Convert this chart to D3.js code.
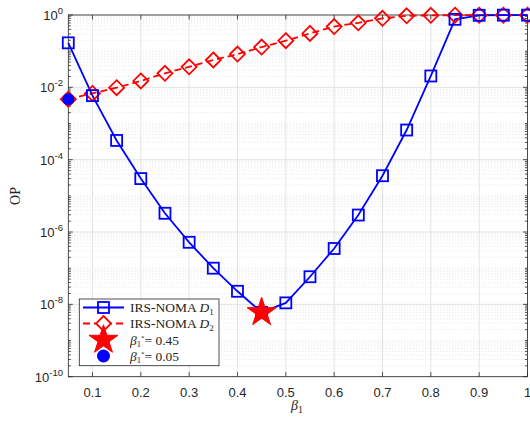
<!DOCTYPE html>
<html><head><meta charset="utf-8">
<script src="https://cdn.jsdelivr.net/npm/d3@7"></script>
<style>body{margin:0;background:#fff}</style>
</head><body><svg id="c" width="530" height="421"></svg>
<script>
const beta = [0.05,0.1,0.15,0.2,0.25,0.3,0.35,0.4,0.45,0.5,0.55,0.6,0.65,0.7,0.75,0.8,0.85,0.9,0.95,1.0];
const opD1 = [0.17,5.9e-3,3.4e-4,3.0e-5,3.3e-6,5.2e-7,1.0e-7,2.3e-8,6e-9,1.1e-8,5.8e-8,3.5e-7,2.95e-6,3.6e-5,6.6e-4,2.06e-2,0.76,0.98,0.99,0.99];
const opD2 = [4.7e-3,6.8e-3,9.8e-3,0.015,0.0245,0.037,0.057,0.083,0.13,0.195,0.31,0.48,0.61,0.81,0.95,0.98,0.99,0.99,0.99,0.99];
const starPt = {x:0.45, y:6e-9};
const circPt = {x:0.05, y:4.7e-3};
const xTicks = [0.1,0.2,0.3,0.4,0.5,0.6,0.7,0.8,0.9,1];
const yTickExp = [0,-2,-4,-6,-8,-10];
const legendLabels = ["IRS-NOMA D1","IRS-NOMA D2","β1*= 0.45","β1*= 0.05"];

const svg = d3.select("#c");
const L=68.3,R=527.5,T=15,B=376.7;
const x = d3.scaleLinear().domain([0.05,1]).range([L,R]);
const y = d3.scaleLog().domain([1e-10,1]).range([B,T]);

// grid
const g = svg.append("g");
const minor=[];
for(let e=-10;e<0;e++){ for(let m=1;m<10;m++){ const v=m*Math.pow(10,e); if(m===1 && e%2===0) continue; minor.push(v);} }
g.selectAll(".mg").data(minor).enter().append("line")
 .attr("x1",L).attr("x2",R).attr("y1",d=>y(d)).attr("y2",d=>y(d))
 .attr("stroke","#d4d4d4").attr("stroke-width",0.6).attr("stroke-dasharray","1,2");
g.selectAll(".gy").data(yTickExp.map(e=>Math.pow(10,e))).enter().append("line")
 .attr("x1",L).attr("x2",R).attr("y1",d=>y(d)).attr("y2",d=>y(d))
 .attr("stroke","#e3e3e3").attr("stroke-width",1);
g.selectAll(".gx").data(xTicks).enter().append("line")
 .attr("y1",T).attr("y2",B).attr("x1",d=>x(d)).attr("x2",d=>x(d))
 .attr("stroke","#e3e3e3").attr("stroke-width",1);

// ticks
const tk = svg.append("g").attr("stroke","#262626").attr("stroke-width",0.8);
xTicks.forEach(v=>{
  tk.append("line").attr("x1",x(v)).attr("x2",x(v)).attr("y1",B).attr("y2",B-4.5);
  tk.append("line").attr("x1",x(v)).attr("x2",x(v)).attr("y1",T).attr("y2",T+4.5);
});
yTickExp.forEach(e=>{
  const v=Math.pow(10,e);
  tk.append("line").attr("x1",L).attr("x2",L+4.5).attr("y1",y(v)).attr("y2",y(v));
  tk.append("line").attr("x1",R).attr("x2",R-4.5).attr("y1",y(v)).attr("y2",y(v));
});
minor.forEach(v=>{
  tk.append("line").attr("x1",L).attr("x2",L+2.5).attr("y1",y(v)).attr("y2",y(v));
  tk.append("line").attr("x1",R).attr("x2",R-2.5).attr("y1",y(v)).attr("y2",y(v));
});
svg.append("rect").attr("x",L).attr("y",T).attr("width",R-L).attr("height",B-T)
 .attr("fill","none").attr("stroke","#262626").attr("stroke-width",0.8);

// tick labels
const tf = "Liberation Sans, Arial, sans-serif";
svg.append("g").selectAll("text").data(xTicks).enter().append("text")
 .attr("x",d=>x(d)).attr("y",397).attr("text-anchor","middle")
 .attr("font-family",tf).attr("font-size",13).attr("fill","#262626")
 .text(d=>d===1?"1":d3.format(".1f")(d));
yTickExp.forEach(e=>{
  const t=svg.append("text").attr("x",63).attr("y",y(Math.pow(10,e))+5).attr("text-anchor","end")
   .attr("font-family",tf).attr("font-size",13).attr("fill","#262626");
  t.append("tspan").text("10");
  t.append("tspan").attr("dy",-6).attr("font-size",9.5).text(String(e));
});

// axis labels
const sf="Liberation Serif, Times New Roman, serif";
svg.append("text").attr("transform","translate(20,196) rotate(-90)").attr("text-anchor","middle")
 .attr("font-family",sf).attr("font-size",14).attr("fill","#262626").text("OP");
const xl=svg.append("text").attr("x",297).attr("y",410).attr("text-anchor","middle")
 .attr("font-family",sf).attr("font-size",14).attr("fill","#262626");
xl.append("tspan").attr("font-style","italic").text("β");
xl.append("tspan").attr("dy",3).attr("font-size",10).text("1");

// lines
const line = d3.line().x((d,i)=>x(beta[i])).y(d=>y(d));
svg.append("path").datum(opD2).attr("d",line).attr("fill","none").attr("stroke","#ff0000")
 .attr("stroke-width",1.8).attr("stroke-dasharray","7,4");
svg.append("path").datum(opD1).attr("d",line).attr("fill","none").attr("stroke","#0000ff")
 .attr("stroke-width",1.8);

// markers
function square(sel,cx,cy){ sel.append("rect").attr("x",cx-5.5).attr("y",cy-5.5).attr("width",11).attr("height",11)
  .attr("fill","none").attr("stroke","#0000ff").attr("stroke-width",1.8); }
function diamond(sel,cx,cy){ sel.append("path").attr("d",`M${cx},${cy-7.5}L${cx+7.5},${cy}L${cx},${cy+7.5}L${cx-7.5},${cy}Z`)
  .attr("fill","none").attr("stroke","#ff0000").attr("stroke-width",1.8); }
const mk=svg.append("g");
opD2.forEach((v,i)=>diamond(mk,x(beta[i]),y(v)));
opD1.forEach((v,i)=>square(mk,x(beta[i]),y(v)));
const starSym = d3.symbol().type(d3.symbolStar).size(260);
svg.append("path").attr("d",starSym).attr("transform",`translate(${x(starPt.x)},${y(starPt.y)})`).attr("fill","#ff0000").attr("stroke","#ff0000");
svg.append("circle").attr("cx",x(circPt.x)).attr("cy",y(circPt.y)).attr("r",6).attr("fill","#0000ff");

// legend
const lg=svg.append("g");
lg.append("rect").attr("x",79.3).attr("y",299).attr("width",139.7).attr("height",66.7)
 .attr("fill","#fff").attr("stroke","#262626").attr("stroke-width",0.8);
const rows=[307.5,323.5,340,356];
lg.append("line").attr("x1",83).attr("x2",124).attr("y1",rows[0]).attr("y2",rows[0]).attr("stroke","#0000ff").attr("stroke-width",1.8);
square(lg,103.5,rows[0]);
lg.append("line").attr("x1",83).attr("x2",124).attr("y1",rows[1]).attr("y2",rows[1]).attr("stroke","#ff0000").attr("stroke-width",1.8).attr("stroke-dasharray","7,4");
lg.append("rect").attr("x",96).attr("y",rows[1]-8).attr("width",15).attr("height",16).attr("fill","#fff");
diamond(lg,103.5,rows[1]);
lg.append("path").attr("d",starSym).attr("transform",`translate(103.5,${rows[2]})`).attr("fill","#ff0000").attr("stroke","#ff0000");
lg.append("circle").attr("cx",103.5).attr("cy",rows[3]).attr("r",6.5).attr("fill","#0000ff");
[0,1].forEach(i=>{
  const t=lg.append("text").attr("x",130).attr("y",rows[i]+4.5).attr("font-family",sf).attr("font-size",13.5).attr("fill","#262626");
  const parts = legendLabels[i].split(" ");
  t.append("tspan").text(parts[0]+"  ");
  t.append("tspan").attr("font-style","italic").text(parts[1][0]);
  t.append("tspan").attr("dy",2.5).attr("font-size",9).text(parts[1].slice(1));
});
[2,3].forEach(i=>{
  const lab=legendLabels[i];
  const t=lg.append("text").attr("x",130).attr("y",rows[i]+4.5).attr("font-family",sf).attr("font-size",13.5).attr("fill","#262626");
  t.append("tspan").attr("font-style","italic").text(lab[0]);
  t.append("tspan").attr("dy",2.5).attr("font-size",8.5).text(lab[1]);
  t.append("tspan").attr("dy",-7).attr("font-size",7).text(lab[2]);
  t.append("tspan").attr("dy",4.5).text(lab.slice(3));
});
</script></body></html>
